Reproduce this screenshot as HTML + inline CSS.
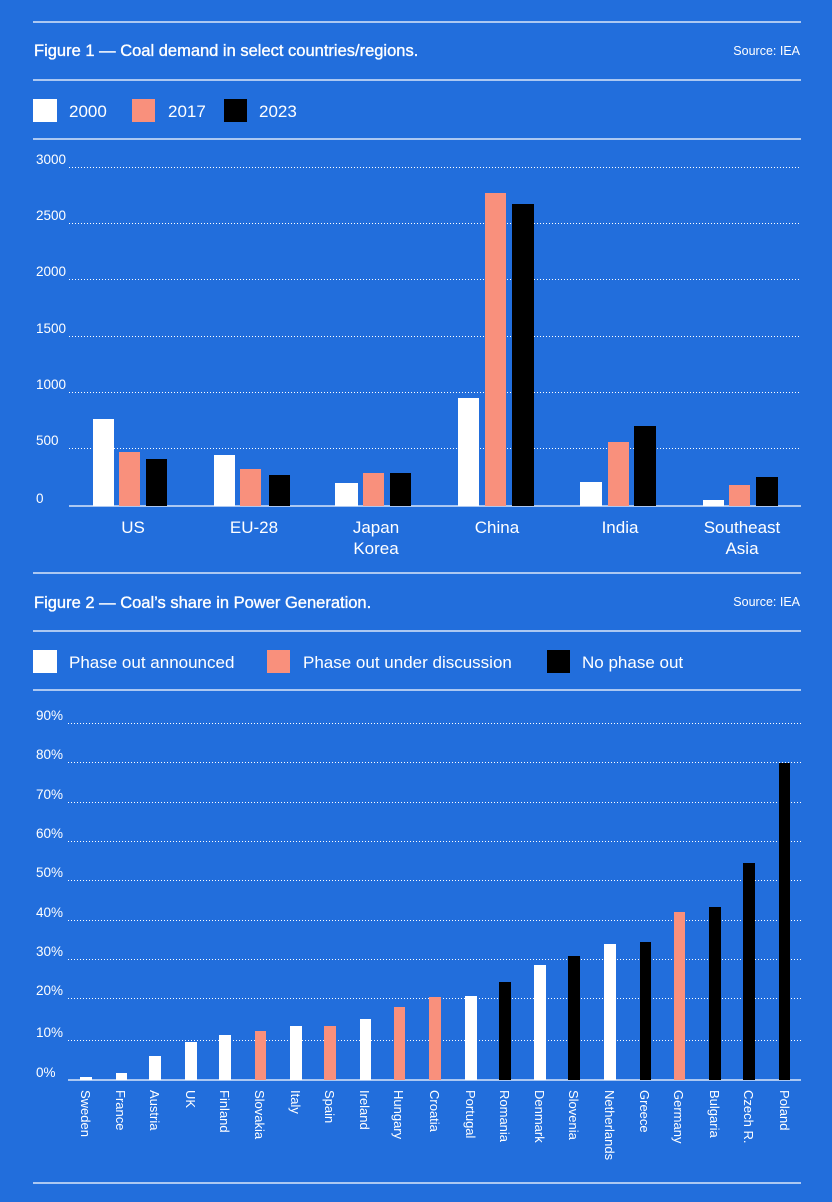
<!DOCTYPE html>
<html><head><meta charset="utf-8"><style>
html,body{margin:0;padding:0;background:#226EDC;}
svg{display:block;font-family:"Liberation Sans",Arial,sans-serif;}
</style></head><body>
<svg width="832" height="1202" viewBox="0 0 832 1202" xmlns="http://www.w3.org/2000/svg">
<rect width="832" height="1202" fill="#226EDC"/>
<g stroke="#fff" stroke-width="1.2">
<line x1="33" y1="22" x2="801" y2="22"/><line x1="33" y1="80" x2="801" y2="80"/><line x1="33" y1="139" x2="801" y2="139"/>
<line x1="33" y1="573" x2="801" y2="573"/><line x1="33" y1="631" x2="801" y2="631"/><line x1="33" y1="690" x2="801" y2="690"/>
<line x1="33" y1="1183" x2="801" y2="1183"/>
</g>
<g fill="#fff">
<text x="34" y="56" font-size="16.5" stroke="#fff" stroke-width="0.35">Figure 1  — Coal demand in select countries/regions.</text>
<text x="800" y="55" font-size="12.5" text-anchor="end">Source: IEA</text>
<text x="34" y="608" font-size="16.5" stroke="#fff" stroke-width="0.35">Figure 2  — Coal’s share in Power Generation.</text>
<text x="800" y="606" font-size="12.5" text-anchor="end">Source: IEA</text>
</g>
<rect x="33" y="99" width="24" height="23" fill="#fff"/><text x="69" y="117" font-size="17" fill="#fff">2000</text>
<rect x="132" y="99" width="23" height="23" fill="#F9907C"/><text x="168" y="117" font-size="17" fill="#fff">2017</text>
<rect x="224" y="99" width="23" height="23" fill="#000"/><text x="259" y="117" font-size="17" fill="#fff">2023</text>
<rect x="33" y="650" width="24" height="23" fill="#fff"/><text x="69" y="668" font-size="17" fill="#fff">Phase out announced</text>
<rect x="267" y="650" width="23" height="23" fill="#F9907C"/><text x="303" y="668" font-size="17" fill="#fff">Phase out under discussion</text>
<rect x="547" y="650" width="23" height="23" fill="#000"/><text x="582" y="668" font-size="17" fill="#fff">No phase out</text>
<!-- Fig1 grid -->
<g stroke="#fff" stroke-width="1" stroke-dasharray="1 2">
<line x1="69" y1="167.5" x2="801" y2="167.5"/><line x1="69" y1="223.5" x2="801" y2="223.5"/><line x1="69" y1="279.5" x2="801" y2="279.5"/>
<line x1="69" y1="336.5" x2="801" y2="336.5"/><line x1="69" y1="392.5" x2="801" y2="392.5"/><line x1="69" y1="448.5" x2="801" y2="448.5"/>
</g>
<line x1="69" y1="506" x2="801" y2="506" stroke="#fff" stroke-width="1.3"/>
<g fill="#fff" font-size="13.5">
<text x="36" y="164">3000</text><text x="36" y="220">2500</text><text x="36" y="276">2000</text>
<text x="36" y="333">1500</text><text x="36" y="389">1000</text><text x="36" y="445">500</text><text x="36" y="503">0</text>
</g>
<g>
<rect x="93" y="419" width="21" height="87" fill="#fff"/><rect x="119" y="452" width="21" height="54" fill="#F9907C"/><rect x="146" y="459" width="21" height="47" fill="#000"/>
<rect x="214" y="455" width="21" height="51" fill="#fff"/><rect x="240" y="469" width="21" height="37" fill="#F9907C"/><rect x="269" y="475" width="21" height="31" fill="#000"/>
<rect x="335" y="483" width="23" height="23" fill="#fff"/><rect x="363" y="473" width="21" height="33" fill="#F9907C"/><rect x="390" y="473" width="21" height="33" fill="#000"/>
<rect x="458" y="398" width="21" height="108" fill="#fff"/><rect x="485" y="193" width="21" height="313" fill="#F9907C"/><rect x="512" y="204" width="22" height="302" fill="#000"/>
<rect x="580" y="482" width="22" height="24" fill="#fff"/><rect x="608" y="442" width="21" height="64" fill="#F9907C"/><rect x="634" y="426" width="22" height="80" fill="#000"/>
<rect x="703" y="500" width="21" height="6" fill="#fff"/><rect x="729" y="485" width="21" height="21" fill="#F9907C"/><rect x="756" y="477" width="22" height="29" fill="#000"/>
</g>
<g fill="#fff" font-size="17" text-anchor="middle">
<text x="133" y="533">US</text><text x="254" y="533">EU-28</text><text x="376" y="533">Japan</text><text x="376" y="554">Korea</text>
<text x="497" y="533">China</text><text x="620" y="533">India</text><text x="742" y="533">Southeast</text><text x="742" y="554">Asia</text>
</g>
<!-- Fig2 grid -->
<g stroke="#fff" stroke-width="1" stroke-dasharray="1 2">
<line x1="68" y1="723.5" x2="801" y2="723.5"/><line x1="68" y1="762.5" x2="801" y2="762.5"/><line x1="68" y1="802.5" x2="801" y2="802.5"/>
<line x1="68" y1="841.5" x2="801" y2="841.5"/><line x1="68" y1="880.5" x2="801" y2="880.5"/><line x1="68" y1="920.5" x2="801" y2="920.5"/>
<line x1="68" y1="959.5" x2="801" y2="959.5"/><line x1="68" y1="998.5" x2="801" y2="998.5"/><line x1="68" y1="1040.5" x2="801" y2="1040.5"/>
</g>
<line x1="68" y1="1080" x2="801" y2="1080" stroke="#fff" stroke-width="1.3"/>
<g fill="#fff" font-size="13.5">
<text x="36" y="720">90%</text><text x="36" y="759">80%</text><text x="36" y="799">70%</text><text x="36" y="838">60%</text>
<text x="36" y="877">50%</text><text x="36" y="917">40%</text><text x="36" y="956">30%</text><text x="36" y="995">20%</text>
<text x="36" y="1037">10%</text><text x="36" y="1077">0%</text>
</g>
<g>
<rect x="80" y="1077" width="12" height="3" fill="#fff"/>
<rect x="116" y="1073" width="11" height="7" fill="#fff"/>
<rect x="149" y="1056" width="12" height="24" fill="#fff"/>
<rect x="185" y="1042" width="12" height="38" fill="#fff"/>
<rect x="219" y="1035" width="12" height="45" fill="#fff"/>
<rect x="255" y="1031" width="11" height="49" fill="#F9907C"/>
<rect x="290" y="1026" width="12" height="54" fill="#fff"/>
<rect x="324" y="1026" width="12" height="54" fill="#F9907C"/>
<rect x="360" y="1019" width="11" height="61" fill="#fff"/>
<rect x="394" y="1007" width="11" height="73" fill="#F9907C"/>
<rect x="429" y="997" width="12" height="83" fill="#F9907C"/>
<rect x="465" y="996" width="12" height="84" fill="#fff"/>
<rect x="499" y="982" width="12" height="98" fill="#000"/>
<rect x="534" y="965" width="12" height="115" fill="#fff"/>
<rect x="568" y="956" width="12" height="124" fill="#000"/>
<rect x="604" y="944" width="12" height="136" fill="#fff"/>
<rect x="640" y="942" width="11" height="138" fill="#000"/>
<rect x="674" y="912" width="11" height="168" fill="#F9907C"/>
<rect x="709" y="907" width="12" height="173" fill="#000"/>
<rect x="743" y="863" width="12" height="217" fill="#000"/>
<rect x="779" y="763" width="11" height="317" fill="#000"/>
</g>
<g fill="#fff" font-size="13">
<text transform="translate(81,1090) rotate(90)">Sweden</text>
<text transform="translate(116,1090) rotate(90)">France</text>
<text transform="translate(150,1090) rotate(90)">Austria</text>
<text transform="translate(186,1090) rotate(90)">UK</text>
<text transform="translate(220,1090) rotate(90)">Finland</text>
<text transform="translate(255,1090) rotate(90)">Slovakia</text>
<text transform="translate(291,1090) rotate(90)">Italy</text>
<text transform="translate(325,1090) rotate(90)">Spain</text>
<text transform="translate(360,1090) rotate(90)">Ireland</text>
<text transform="translate(394,1090) rotate(90)">Hungary</text>
<text transform="translate(430,1090) rotate(90)">Croatia</text>
<text transform="translate(466,1090) rotate(90)">Portugal</text>
<text transform="translate(500,1090) rotate(90)">Romania</text>
<text transform="translate(535,1090) rotate(90)">Denmark</text>
<text transform="translate(569,1090) rotate(90)">Slovenia</text>
<text transform="translate(605,1090) rotate(90)">Netherlands</text>
<text transform="translate(640,1090) rotate(90)">Greece</text>
<text transform="translate(674,1090) rotate(90)">Germany</text>
<text transform="translate(710,1090) rotate(90)">Bulgaria</text>
<text transform="translate(744,1090) rotate(90)">Czech R.</text>
<text transform="translate(780,1090) rotate(90)">Poland</text>
</g>
</svg>
</body></html>
